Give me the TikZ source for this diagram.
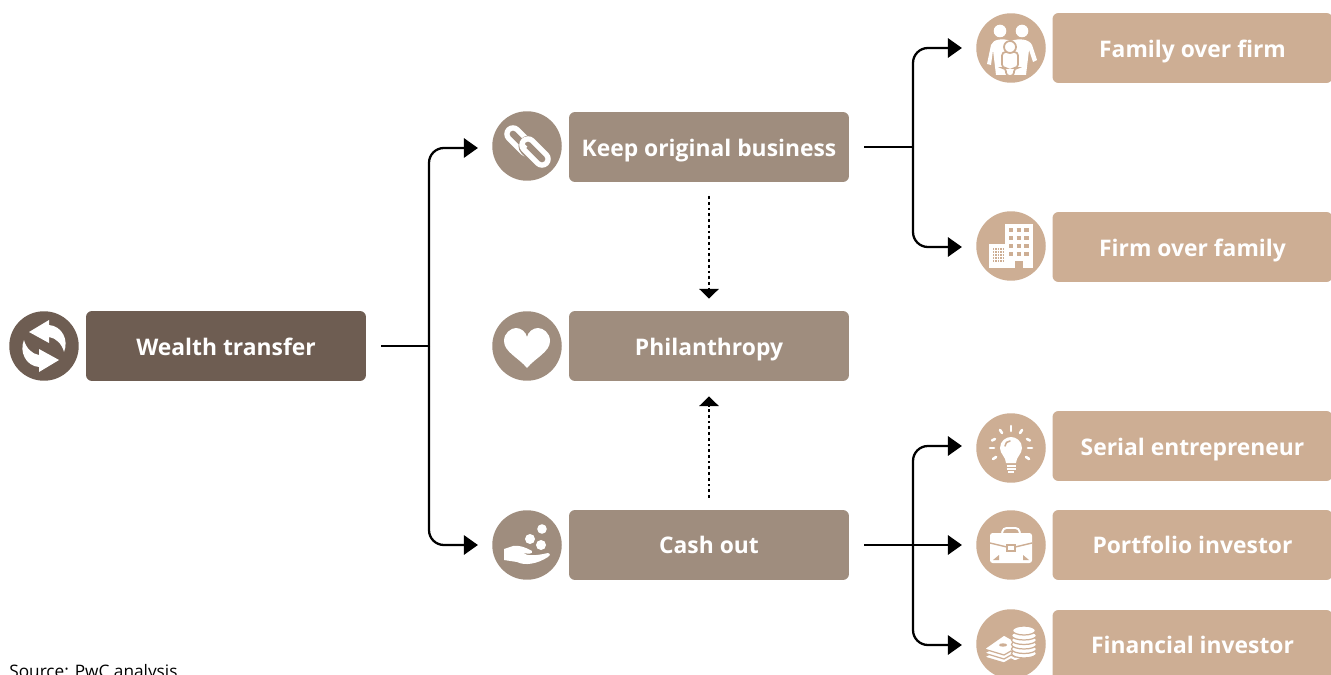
\documentclass[tikz,border=0pt]{standalone}
\usepackage{fontspec}
\setmainfont{Open Sans}
\usepackage{tikz}
\usetikzlibrary{calc}
\usetikzlibrary{arrows.meta}

\definecolor{darkbrown}{HTML}{6E5D52}
\definecolor{midbrown}{HTML}{9F8D7E}
\definecolor{lightbrown}{HTML}{CDAE94}

\begin{document}
\begin{tikzpicture}[x=0.02cm, y=-0.02cm]

    \tikzset{
        label box/.style={rectangle, rounded corners=3.4pt, minimum width=5.6cm,
            minimum height=1.4cm, inner sep=0pt, text=white, text height=0.5cm,
            text depth=0.1cm, font=\fontsize{13}{15}\selectfont\bfseries},
        raised label/.style={text height=0.47cm, text depth=0.13cm},
        icon disc/.style={circle, minimum size=1.39cm, inner sep=0pt},
        link/.style={line width=1.3pt, rounded corners=8.5pt},
        link tip/.style={link, -{Triangle[length=8pt, width=11pt]}, shorten >=0.28cm},
        dotted tip/.style={line width=1.55pt, dash pattern=on 1.55pt off 1.7pt,
            -{Triangle[length=5.6pt, width=11pt]}},
        glyph/.style={fill=white, draw=none}
    }

    \useasboundingbox (0, 0) rectangle (1331, 675);

    % Boxes of the three columns
    \node[label box, fill=darkbrown] (wealth) at (226, 346) {Wealth transfer};

    \node[label box, fill=midbrown] (keep) at (709, 147) {Keep original business};
    \node[label box, fill=midbrown] (phil) at (709, 346) {Philanthropy};
    \node[label box, raised label, fill=midbrown] (cash) at (709, 545) {Cash out};

    \node[label box, fill=lightbrown] (family) at (1192.5, 48) {Family over firm};
    \node[label box, fill=lightbrown] (firm) at (1192.5, 247) {Firm over family};
    \node[label box, fill=lightbrown] (serial) at (1192.5, 446) {Serial entrepreneur};
    \node[label box, raised label, fill=lightbrown] (portfolio) at (1192.5, 545) {Portfolio investor};
    \node[label box, raised label, fill=lightbrown] (financial) at (1192.5, 645) {Financial investor};

    % Discs that carry the icons
    \node[icon disc, fill=darkbrown] (wealthicon) at (44, 346) {};

    \node[icon disc, fill=midbrown] (keepicon) at (527, 146) {};
    \node[icon disc, fill=midbrown] (philicon) at (527, 346) {};
    \node[icon disc, fill=midbrown] (cashicon) at (527, 545) {};

    \node[icon disc, fill=lightbrown] (familyicon) at (1011, 48) {};
    \node[icon disc, fill=lightbrown] (firmicon) at (1011, 246) {};
    \node[icon disc, fill=lightbrown] (serialicon) at (1011, 448) {};
    \node[icon disc, fill=lightbrown] (portfolioicon) at (1011, 545) {};
    \node[icon disc, fill=lightbrown] (financialicon) at (1011, 644) {};

    % Free ends and branch points of the connectors
    \coordinate (wealthout) at ([xshift=0.3cm]wealth.east);
    \coordinate (keepout) at ([xshift=0.3cm]keep.east);
    \coordinate (cashout) at ([xshift=0.3cm]cash.east);
    \coordinate (wealthsplit) at (429, 346);
    \coordinate (keepsplit) at (913, 147);
    \coordinate (cashsplit) at (913, 545);

    \begin{scope}
        \draw[link] (wealthout) -- (wealthsplit);
        \draw[link tip] (wealthsplit) |- ([yshift=-0.04cm]keepicon.west);
        \draw[link tip] (wealthsplit) |- (cashicon);

        \draw[link] (keepout) -- (keepsplit);
        \draw[link tip] (keepsplit) |- (familyicon);
        \draw[link tip] (keepsplit) |- ([yshift=-0.02cm]firmicon.west);

        \draw[link tip] (cashout) -- (portfolioicon);
        \draw[link tip] (cashsplit) |- ([yshift=0.04cm]serialicon.west);
        \draw[link tip] (cashsplit) |- ([yshift=-0.02cm]financialicon.west);
    \end{scope}

    % Dotted arrows into the middle box
    \draw[dotted tip, shorten <=0.28cm, shorten >=0.24cm] (keep) -- (phil);
    \draw[dotted tip, shorten <=0.24cm, shorten >=0.3cm] (cash) -- (phil);

    % Two arrows chasing each other
    \begin{scope}[shift={(wealthicon.center)}]
        \fill[glyph] (5, -26) -- (-15, -14) -- (5, -3) -- (5, -9)
            .. controls (12, -8) and (18, -2) .. (20, 6)
            .. controls (25, -6) and (18, -20) .. (5, -21) -- cycle;
        \begin{scope}[rotate=180]
            \fill[glyph] (5, -26) -- (-15, -14) -- (5, -3) -- (5, -9)
                .. controls (12, -8) and (18, -2) .. (20, 6)
                .. controls (25, -6) and (18, -20) .. (5, -21) -- cycle;
        \end{scope}
    \end{scope}

    % Chain links
    \begin{scope}[shift={(keepicon.center)}, line cap=round]
        \draw[white, line width=10pt] (-14, -12) -- (0, 2);
        \draw[midbrown, line width=3.8pt] (-14, -12) -- (0, 2);
        \draw[midbrown, line width=12pt] (2, 0) -- (15, 13);
        \draw[white, line width=10pt] (1, -1) -- (15, 13);
        \draw[midbrown, line width=3.8pt] (1, -1) -- (15, 13);
        \draw[white, line width=3pt, line cap=butt] (-5.5, -1.5) -- (-1.5, 2.5);
    \end{scope}

    % Heart
    \begin{scope}[shift={(philicon.center)}]
        \fill[glyph] (0, 22) .. controls (-8, 12) and (-23, 6) .. (-23, -5)
            .. controls (-23, -13) and (-16, -18) .. (-11, -18)
            .. controls (-6, -18) and (-1, -14) .. (0, -9)
            .. controls (1, -14) and (6, -18) .. (11, -18)
            .. controls (16, -18) and (23, -13) .. (23, -5)
            .. controls (23, 6) and (8, 12) .. (0, 22) -- cycle;
    \end{scope}

    % Hand with coins
    \begin{scope}[shift={(cashicon.center)}]
        \fill[glyph] (15, -16) circle (4.8);
        \fill[glyph] (3, -6) circle (5);
        \fill[glyph] (14, 0) circle (5);
        \fill[glyph] (-23, 4) -- (-14, 1) .. controls (-8, 0) and (-2, 2) .. (5, 6)
            .. controls (6, 9) and (2, 9) .. (-4, 8)
            .. controls (0, 11) and (8, 11) .. (21, 8)
            .. controls (24, 9) and (23, 11) .. (21, 12)
            .. controls (10, 19) and (-2, 21) .. (-10, 17)
            -- (-23, 15) -- cycle;
    \end{scope}

    % Family of three
    \begin{scope}[shift={(familyicon.center)}]
        \fill[glyph] (-11, -17) circle (6.3);
        \fill[glyph] (11, -17) circle (6.3);
        \fill[glyph] (-24, 16) -- (-20, -3) .. controls (-18, -9) and (-8, -10) .. (0, -7)
            .. controls (8, -10) and (18, -9) .. (21, -3) -- (26, 12)
            -- (22, 14) -- (18, 2) -- (15, 27) -- (-15, 27) -- (-18, 2)
            -- (-20, 17) -- cycle;
        \fill[white, draw=lightbrown, line width=1pt, rounded corners=2pt]
            (-9, 4) -- (7, 4) -- (7, 20) -- (3, 20) -- (3, 28) -- (-5, 28)
            -- (-5, 20) -- (-9, 20) -- cycle;
        \fill[white, draw=lightbrown, line width=1pt] (-1, -1) circle (6);
    \end{scope}

    % Buildings
    \begin{scope}[shift={(firmicon.center)}]
        \fill[glyph] (-6, -22) rectangle (22, 22);
        \fill[glyph] (-22, -2) rectangle (-6, 22);
        \fill[lightbrown] (4, 15) rectangle (12, 23);
        \begin{scope}[draw=lightbrown, line width=2.3pt, dash pattern=on 2.3pt off 2.1pt]
            \draw (-2, -16) -- (18, -16);
            \draw (-2, -8) -- (18, -8);
            \draw (-2, 0) -- (18, 0);
            \draw (-2, 8) -- (18, 8);
        \end{scope}
        \begin{scope}[draw=lightbrown, line width=0.8pt, dash pattern=on 0.8pt off 0.55pt]
            \draw (-18, 3) -- (-8, 3);
            \draw (-18, 6) -- (-8, 6);
            \draw (-18, 9) -- (-8, 9);
            \draw (-18, 12) -- (-8, 12);
            \draw (-18, 15) -- (-8, 15);
        \end{scope}
    \end{scope}

    % Light bulb with rays
    \begin{scope}[shift={(serialicon.center)}]
        \fill[glyph] (-5, 15) .. controls (-5, 9) and (-11, 6) .. (-11, 0)
            .. controls (-11, -7) and (-5, -11) .. (0, -11)
            .. controls (5, -11) and (11, -7) .. (11, 0)
            .. controls (11, 6) and (5, 9) .. (5, 15) -- cycle;
        \draw[lightbrown, line width=0.9pt, line cap=round] (-6, -2) arc (180:270:5);
        \begin{scope}[draw=white, line width=1.5pt]
            \draw (-4.5, 18) -- (4.5, 18);
            \draw (-4.5, 21) -- (4.5, 21);
            \draw (-3, 24) -- (3, 24);
        \end{scope}
        \begin{scope}[draw=white, line width=1.5pt, line cap=round]
            \draw (0, -17) -- (0, -22);
            \draw (-9, -15) -- (-11, -18);
            \draw (9, -15) -- (11, -18);
            \draw (-16, -9) -- (-19, -7.5);
            \draw (16, -9) -- (19, -7.5);
            \draw (-17, 0) -- (-21, 0);
            \draw (17, 0) -- (21, 0);
            \draw (-15, 9) -- (-18, 11);
            \draw (15, 9) -- (18, 11);
        \end{scope}
    \end{scope}

    % Briefcase
    \begin{scope}[shift={(portfolioicon.center)}]
        \draw[white, line width=1.1pt, rounded corners=2pt]
            (-9, -11) -- (-8, -17) -- (8, -17) -- (9, -11);
        \fill[glyph, rounded corners=1.5pt] (-21, -12) rectangle (21, 18);
        \draw[lightbrown, line width=0.8pt] (-21, -2) -- (0, 3) -- (21, -2);
        \fill[white, draw=lightbrown, line width=0.8pt] (-4, 0) rectangle (4, 6);
        \fill[lightbrown] (-18, 15) -- (-12, 10) -- (-12, 15) -- cycle;
        \fill[lightbrown] (18, 15) -- (12, 10) -- (12, 15) -- cycle;
    \end{scope}

    % Bank notes and a stack of coins
    \begin{scope}[shift={(financialicon.center)}]
        \begin{scope}[draw=lightbrown, line width=0.7pt, fill=white]
            \filldraw (-27, 13) -- (-5, 2) -- (16, 12) -- (4, 17) -- (0, 15)
                -- (-7, 19) -- cycle;
            \filldraw (-27, 9) -- (-5, -2) -- (16, 8) -- (4, 13) -- (0, 11)
                -- (-7, 15) -- cycle;
            \filldraw (-27, 5) -- (-7, -9) -- (16, 4) -- (4, 9) -- (0, 7)
                -- (-7, 11) -- cycle;
            \fill[lightbrown] (-8, 1) ellipse (4 and 1.7);
            \filldraw (13, 9.5) ellipse (12.5 and 4.5);
            \filldraw (13, 5) ellipse (12.5 and 4.5);
            \filldraw (13, 0.5) ellipse (12.5 and 4.5);
            \filldraw (13, -4) ellipse (12.5 and 4.5);
            \filldraw (13, -8.5) ellipse (12.5 and 4.5);
            \filldraw (13, -13.5) ellipse (11.5 and 4.5);
        \end{scope}
    \end{scope}

    \node[anchor=base west, inner sep=0pt, font=\fontsize{9.8}{12}\selectfont]
        (source) at (9, 677) {Source: PwC analysis};

\end{tikzpicture}
\end{document}
